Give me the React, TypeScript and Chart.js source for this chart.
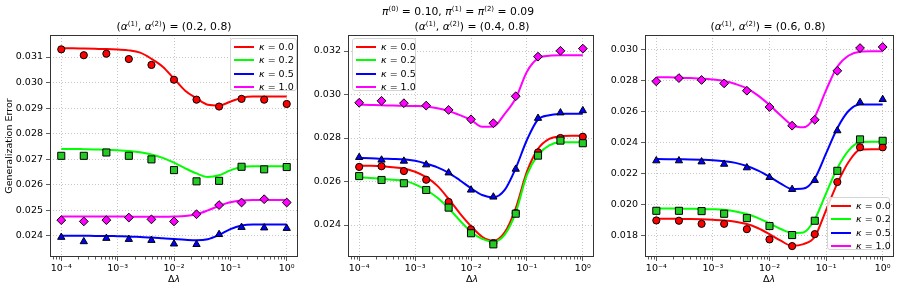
import React, { useEffect, useRef } from 'react';
import Chart from 'chart.js/auto';

// ---------------- data ----------------
const MARKER_X = [1e-4, 2.51e-4, 6.31e-4, 1.58e-3, 3.98e-3, 1e-2, 2.51e-2, 6.31e-2, 0.158, 0.398, 1];
const CURVE_X = [
  1e-4, 1.58e-4, 2.51e-4, 3.98e-4, 6.31e-4, 1e-3, 1.58e-3, 2.51e-3, 3.98e-3, 6.31e-3, 1e-2,
  1.58e-2, 2.51e-2, 3.98e-2, 6.31e-2, 0.1, 0.158, 0.251, 0.398, 0.631, 1,
];
const X_TICKS = [1e-4, 1e-3, 1e-2, 1e-1, 1];
const X_TICK_LABELS = ['10\u207B\u2074', '10\u207B\u00B3', '10\u207B\u00B2', '10\u207B\u00B9', '10\u2070'];
const KAPPAS = ['0.0', '0.2', '0.5', '1.0'];
const Y_LABEL = 'Generalization Error';

// panel (0.2, 0.8)
const A02_PTS_K0 = [0.0313, 0.03107, 0.03113, 0.03092, 0.03069, 0.03011, 0.02933, 0.02906, 0.02936, 0.02933, 0.02916];
const A02_PTS_K2 = [0.02713, 0.02713, 0.02726, 0.02713, 0.02699, 0.02657, 0.02613, 0.02615, 0.0267, 0.0266, 0.02669];
const A02_PTS_K5 = [0.02394, 0.02377, 0.0239, 0.02386, 0.02382, 0.02368, 0.02366, 0.02405, 0.02433, 0.02431, 0.02429];
const A02_PTS_K10 = [0.02461, 0.02456, 0.02461, 0.02471, 0.02464, 0.02456, 0.02484, 0.0252, 0.0253, 0.02543, 0.0253];
const A02_FIT_K0 = [0.03134, 0.03134, 0.03133, 0.03132, 0.03131, 0.03129, 0.03126, 0.03117, 0.03093, 0.03062, 0.03015, 0.02968, 0.02938, 0.02913, 0.0291, 0.02925, 0.0294, 0.02945, 0.02945, 0.02945, 0.02945];
const A02_FIT_K2 = [0.0274, 0.0274, 0.02739, 0.02738, 0.02737, 0.02735, 0.02732, 0.02727, 0.02718, 0.02705, 0.02686, 0.02664, 0.02644, 0.0263, 0.02637, 0.02656, 0.02669, 0.02672, 0.02672, 0.02672, 0.02672];
const A02_FIT_K5 = [0.024, 0.024, 0.024, 0.02399, 0.02399, 0.02398, 0.02397, 0.02395, 0.02393, 0.0239, 0.02387, 0.02384, 0.02382, 0.02386, 0.02403, 0.02426, 0.0244, 0.02444, 0.02444, 0.02444, 0.02444];
const A02_FIT_K10 = [0.02475, 0.02475, 0.02475, 0.02475, 0.02475, 0.02475, 0.02475, 0.02474, 0.02474, 0.02474, 0.02475, 0.02477, 0.02484, 0.02499, 0.02517, 0.02531, 0.02538, 0.0254, 0.0254, 0.0254, 0.0254];

// panel (0.4, 0.8)
const A04_PTS_K0 = [0.02667, 0.0267, 0.02648, 0.02608, 0.02506, 0.0238, 0.02317, 0.02455, 0.02734, 0.028, 0.02806];
const A04_PTS_K2 = [0.02625, 0.02607, 0.02592, 0.02561, 0.0248, 0.02362, 0.02311, 0.02452, 0.02719, 0.02788, 0.02776];
const A04_PTS_K5 = [0.02711, 0.02699, 0.02694, 0.02677, 0.0264, 0.02561, 0.02529, 0.02657, 0.02891, 0.02916, 0.02926];
const A04_PTS_K10 = [0.02962, 0.02971, 0.0296, 0.02949, 0.02929, 0.02886, 0.02868, 0.02992, 0.03174, 0.03201, 0.03211];
const A04_FIT_K0 = [0.02673, 0.02672, 0.0267, 0.02666, 0.0266, 0.02645, 0.0262, 0.0258, 0.0252, 0.02454, 0.02395, 0.02346, 0.02328, 0.02365, 0.02477, 0.02645, 0.0275, 0.02796, 0.02808, 0.0281, 0.0281];
const A04_FIT_K2 = [0.02619, 0.02616, 0.02612, 0.02608, 0.02604, 0.02587, 0.02561, 0.02525, 0.02477, 0.02421, 0.02369, 0.02336, 0.02324, 0.02355, 0.02457, 0.0263, 0.02722, 0.02766, 0.0278, 0.0278, 0.0278];
const A04_FIT_K5 = [0.02708, 0.02707, 0.02705, 0.02704, 0.02702, 0.02695, 0.02682, 0.02665, 0.0264, 0.02606, 0.02569, 0.02538, 0.02527, 0.0256, 0.02661, 0.02791, 0.02885, 0.02905, 0.02911, 0.02912, 0.02912];
const A04_FIT_K10 = [0.02953, 0.02952, 0.02951, 0.02949, 0.02948, 0.02947, 0.02945, 0.02937, 0.02924, 0.02905, 0.02883, 0.02852, 0.02853, 0.0291, 0.02983, 0.03105, 0.03166, 0.03178, 0.0318, 0.0318, 0.0318];

// panel (0.6, 0.8)
const A06_PTS_K0 = [0.019, 0.01898, 0.01878, 0.01878, 0.01844, 0.01778, 0.01735, 0.01812, 0.02147, 0.0237, 0.0237];
const A06_PTS_K2 = [0.01962, 0.01962, 0.0196, 0.01943, 0.01915, 0.01864, 0.01806, 0.01898, 0.02219, 0.02421, 0.02412];
const A06_PTS_K5 = [0.02284, 0.02284, 0.02277, 0.02262, 0.02239, 0.02177, 0.021, 0.02158, 0.02477, 0.02659, 0.02678];
const A06_PTS_K10 = [0.02794, 0.02815, 0.02803, 0.02781, 0.02734, 0.02629, 0.02509, 0.02547, 0.02862, 0.03008, 0.03015];
const A06_FIT_K0 = [0.01911, 0.01911, 0.0191, 0.01909, 0.01907, 0.01904, 0.019, 0.01892, 0.01877, 0.0185, 0.01812, 0.0177, 0.01737, 0.01748, 0.01795, 0.01967, 0.02138, 0.02277, 0.02355, 0.02357, 0.02357];
const A06_FIT_K2 = [0.01977, 0.01977, 0.01976, 0.01975, 0.01974, 0.01972, 0.01968, 0.01958, 0.01941, 0.01915, 0.01881, 0.01845, 0.0182, 0.01823, 0.01907, 0.02074, 0.02235, 0.0235, 0.02404, 0.02406, 0.02406];
const A06_FIT_K5 = [0.02295, 0.02294, 0.02293, 0.02292, 0.0229, 0.02287, 0.02281, 0.0227, 0.0225, 0.0222, 0.02181, 0.02137, 0.02102, 0.02105, 0.0217, 0.02331, 0.02493, 0.02605, 0.02645, 0.02646, 0.02646];
const A06_FIT_K10 = [0.0282, 0.0282, 0.02818, 0.02815, 0.02812, 0.02806, 0.02796, 0.02777, 0.02749, 0.02702, 0.02642, 0.02575, 0.02513, 0.02499, 0.02567, 0.02738, 0.02888, 0.0296, 0.02985, 0.02987, 0.02987];

const Y_TICKS_A02 = [0.024, 0.025, 0.026, 0.027, 0.028, 0.029, 0.03, 0.031];
const Y_TICKS_A04 = [0.024, 0.026, 0.028, 0.03, 0.032];
const Y_TICKS_A06 = [0.018, 0.02, 0.022, 0.024, 0.026, 0.028, 0.03];

// ---------------- styles ----------------
const LINE_COLORS = ['#ff0000', '#00ff00', '#0000ff', '#ff00ff'];
const MARKER_FILLS = ['#ff0000', '#22cc22', '#0000ff', '#ff00ff'];
const MARKER_STYLES = ['circle', 'rect', 'triangle', 'rectRot'];
const MARKER_RADII = [3.6, 5, 4.2, 4.4];
const FONT = 'DejaVu Sans';

const framePlugin = {
  id: 'frameMinor',
  afterDatasetsDraw(chart: any) {
    const { ctx, chartArea: a, scales } = chart;
    const xs = scales.x;
    ctx.save();
    ctx.strokeStyle = '#333';
    ctx.lineWidth = 0.8;
    for (let d = -5; d <= 0; d++) {
      for (let m = 2; m <= 9; m++) {
        const v = m * Math.pow(10, d);
        if (v < xs.min || v > xs.max) continue;
        const px = Math.round(xs.getPixelForValue(v)) + 0.5;
        ctx.beginPath();
        ctx.moveTo(px, a.bottom);
        ctx.lineTo(px, a.bottom + 2.5);
        ctx.stroke();
      }
    }
    ctx.lineWidth = 1;
    ctx.strokeStyle = '#333';
    ctx.strokeRect(Math.round(a.left) + 0.5, Math.round(a.top) + 0.5, Math.round(a.right - a.left) - 1, Math.round(a.bottom - a.top) - 1);
    ctx.restore();
  },
};

type PanelProps = {
  left: number;
  width: number;
  yAxisWidth: number;
  rightPad: number;
  yMin: number;
  yMax: number;
  yTicks: number[];
  pts: number[][];
  fits: number[][];
  yTitle?: string;
};

function Panel({ left, width, yAxisWidth, rightPad, yMin, yMax, yTicks, pts, fits, yTitle }: PanelProps) {
  const ref = useRef<HTMLCanvasElement | null>(null);
  useEffect(() => {
    if (!ref.current) return;
    const datasets: any[] = [];
    fits.forEach((ys, k) => {
      datasets.push({
        data: CURVE_X.map((x, i) => ({ x, y: ys[i] })),
        borderColor: LINE_COLORS[k],
        backgroundColor: LINE_COLORS[k],
        borderWidth: 2,
        pointRadius: 0,
        cubicInterpolationMode: 'monotone',
        fill: false,
        order: 8 - k,
      });
    });
    pts.forEach((ys, k) => {
      datasets.push({
        data: MARKER_X.map((x, i) => ({ x, y: ys[i] })),
        showLine: false,
        pointStyle: MARKER_STYLES[k],
        pointRadius: MARKER_RADII[k],
        pointBackgroundColor: MARKER_FILLS[k],
        pointBorderColor: '#000',
        pointBorderWidth: 1,
        order: 4 - k,
      });
    });
    const chart = new Chart(ref.current, {
      type: 'line',
      data: { datasets },
      plugins: [framePlugin],
      options: {
        animation: false,
        responsive: false,
        maintainAspectRatio: false,
        events: [],
        layout: { padding: { top: 35, right: rightPad, bottom: 0, left: 0 } },
        plugins: { legend: { display: false }, title: { display: false }, tooltip: { enabled: false } },
        scales: {
          x: {
            type: 'logarithmic',
            min: Math.pow(10, -4.2),
            max: Math.pow(10, 0.2),
            bounds: 'data',
            afterBuildTicks: (s: any) => {
              s.ticks = X_TICKS.map((v) => ({ value: v }));
            },
            afterFit: (s: any) => {
              s.height = 35;
            },
            ticks: {
              callback: (_v: any, i: number) => X_TICK_LABELS[i],
              font: { family: FONT, size: 9.5 },
              color: '#000',
              padding: 2,
              maxRotation: 0,
              autoSkip: false,
            },
            grid: { color: '#b8b8b8', lineWidth: 0.8, tickColor: '#333', tickLength: 4 },
            border: { display: false, dash: [1, 2] },
          },
          y: {
            type: 'linear',
            min: yMin,
            max: yMax,
            bounds: 'data',
            afterBuildTicks: (s: any) => {
              s.ticks = yTicks.map((v) => ({ value: v }));
            },
            afterFit: (s: any) => {
              s.width = yAxisWidth;
            },
            title: {
              display: !!yTitle,
              text: yTitle || '',
              color: '#000',
              font: { family: FONT, size: 9.5 },
              padding: { top: 4.3, bottom: 0 },
            },
            ticks: {
              callback: (v: any) => Number(v).toFixed(3),
              font: { family: FONT, size: 9.5 },
              color: '#000',
              padding: 3,
              autoSkip: false,
            },
            grid: { color: '#b8b8b8', lineWidth: 0.8, tickColor: '#333', tickLength: 4 },
            border: { display: false, dash: [1, 2] },
          },
        },
      } as any,
    });
    return () => chart.destroy();
  }, []);
  return (
    <canvas
      ref={ref}
      width={width}
      height={292}
      style={{ position: 'absolute', left, top: 0, width, height: 292 }}
    />
  );
}

const Sup = ({ children }: { children: any }) => (
  <span style={{ fontSize: '65%', position: 'relative', top: '-0.55em' }}>{children}</span>
);

function Text({ cx, cy, size, children }: { cx: number; cy: number; size: number; children: any }) {
  return (
    <div
      style={{
        position: 'absolute',
        left: cx,
        top: cy,
        transform: 'translate(-50%, -50%)',
        whiteSpace: 'nowrap',
        fontFamily: FONT,
        fontSize: size,
        lineHeight: 1,
        color: '#000',
      }}
    >
      {children}
    </div>
  );
}

function Legend({ left, top, width }: { left: number; top: number; width: number }) {
  const rows = [7.7, 21.2, 34.6, 48];
  return (
    <div
      style={{
        position: 'absolute',
        left,
        top,
        width,
        height: 53,
        boxSizing: 'border-box',
        border: '1px solid #d4d4d4',
        borderRadius: 3,
        background: 'rgba(255,255,255,0.8)',
        fontFamily: FONT,
        fontSize: 9.5,
        color: '#000',
      }}
    >
      {KAPPAS.map((k, i) => (
        <React.Fragment key={k}>
          <div
            style={{
              position: 'absolute',
              left: 3,
              top: rows[i] - 1,
              width: 20,
              height: 2,
              background: LINE_COLORS[i],
            }}
          />
          <div
            style={{
              position: 'absolute',
              left: 28,
              top: rows[i],
              transform: 'translateY(-50%)',
              whiteSpace: 'nowrap',
              lineHeight: 1,
            }}
          >
            <i>κ</i> = {k}
          </div>
        </React.Fragment>
      ))}
    </div>
  );
}

export default function App() {
  return (
    <div style={{ position: 'absolute', left: 0, top: 0, width: 900, height: 292, background: '#fff', overflow: 'hidden' }}>
      <Panel
        left={0}
        width={305}
        yAxisWidth={50}
        rightPad={7}
        yMin={0.023166}
        yMax={0.031862}
        yTicks={Y_TICKS_A02}
        pts={[A02_PTS_K0, A02_PTS_K2, A02_PTS_K5, A02_PTS_K10]}
        fits={[A02_FIT_K0, A02_FIT_K2, A02_FIT_K5, A02_FIT_K10]}
        yTitle={Y_LABEL}
      />
      <Panel
        left={300}
        width={300}
        yAxisWidth={48}
        rightPad={4}
        yMin={0.022529}
        yMax={0.032736}
        yTicks={Y_TICKS_A04}
        pts={[A04_PTS_K0, A04_PTS_K2, A04_PTS_K5, A04_PTS_K10]}
        fits={[A04_FIT_K0, A04_FIT_K2, A04_FIT_K5, A04_FIT_K10]}
      />
      <Panel
        left={600}
        width={300}
        yAxisWidth={45}
        rightPad={6}
        yMin={0.01665}
        yMax={0.03092}
        yTicks={Y_TICKS_A06}
        pts={[A06_PTS_K0, A06_PTS_K2, A06_PTS_K5, A06_PTS_K10]}
        fits={[A06_FIT_K0, A06_FIT_K2, A06_FIT_K5, A06_FIT_K10]}
      />

      <Text cx={458} cy={12} size={10.8}>
        <i>π</i><Sup>(0)</Sup> = 0.10, <i>π</i><Sup>(1)</Sup> = <i>π</i><Sup>(2)</Sup> = 0.09
      </Text>
      <Text cx={174} cy={26.5} size={10.8}>
        (<i>α</i><Sup>(1)</Sup>, <i>α</i><Sup>(2)</Sup>) = (0.2, 0.8)
      </Text>
      <Text cx={472} cy={27} size={10.8}>
        (<i>α</i><Sup>(1)</Sup>, <i>α</i><Sup>(2)</Sup>) = (0.4, 0.8)
      </Text>
      <Text cx={768} cy={26.5} size={10.8}>
        (<i>α</i><Sup>(1)</Sup>, <i>α</i><Sup>(2)</Sup>) = (0.6, 0.8)
      </Text>

      <Text cx={174} cy={279} size={9.5}>Δ<i>λ</i></Text>
      <Text cx={472} cy={279} size={9.5}>Δ<i>λ</i></Text>
      <Text cx={769} cy={279} size={9.5}>Δ<i>λ</i></Text>

      <Legend left={230} top={38} width={67} />
      <Legend left={352} top={38} width={64} />
      <Legend left={827} top={197} width={63} />
    </div>
  );
}
